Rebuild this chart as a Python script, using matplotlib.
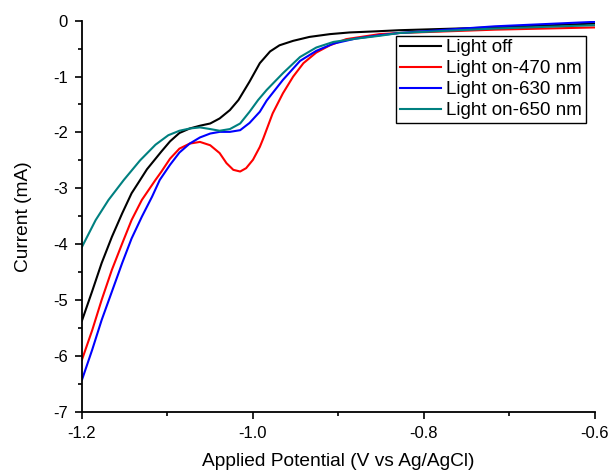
import matplotlib
matplotlib.use("Agg")
import matplotlib.pyplot as plt
from matplotlib.ticker import MultipleLocator, FuncFormatter

plt.rcParams['font.family'] = ['Liberation Sans', 'DejaVu Sans']

# potential (V vs Ag/AgCl) and current (mA)
off_x = [-1.2, -1.188, -1.177, -1.165, -1.153, -1.142, -1.134, -1.124, -1.107, -1.097,
         -1.086, -1.074, -1.062, -1.050, -1.039, -1.027, -1.017, -1.004, -0.992, -0.980,
         -0.969, -0.953, -0.934, -0.910, -0.887, -0.856, -0.829, -0.717, -0.6]
off_y = [-5.37, -4.84, -4.34, -3.87, -3.45, -3.09, -2.90, -2.66, -2.34, -2.16,
         -2.01, -1.93, -1.88, -1.84, -1.75, -1.60, -1.42, -1.09, -0.76, -0.55,
         -0.44, -0.36, -0.29, -0.24, -0.21, -0.19, -0.17, -0.12, -0.05]

r470_x = [-1.2, -1.188, -1.177, -1.165, -1.153, -1.142, -1.130, -1.114, -1.107, -1.097,
          -1.086, -1.074, -1.062, -1.050, -1.039, -1.031, -1.023, -1.015, -1.008, -1.0,
          -0.992, -0.988, -0.977, -0.965, -0.953, -0.941, -0.926, -0.910, -0.891, -0.852,
          -0.829, -0.717, -0.6]
r470_y = [-6.07, -5.54, -5.00, -4.46, -3.99, -3.57, -3.21, -2.85, -2.70, -2.47,
          -2.29, -2.20, -2.17, -2.23, -2.37, -2.55, -2.67, -2.70, -2.64, -2.49,
          -2.26, -2.11, -1.66, -1.30, -1.00, -0.76, -0.57, -0.44, -0.33, -0.24,
          -0.22, -0.16, -0.12]

r630_x = [-1.2, -1.188, -1.177, -1.165, -1.153, -1.142, -1.130, -1.118, -1.109, -1.097,
          -1.086, -1.074, -1.062, -1.050, -1.039, -1.027, -1.015, -1.004, -0.992, -0.984,
          -0.965, -0.945, -0.926, -0.906, -0.880, -0.852, -0.829, -0.717, -0.6]
r630_y = [-6.43, -5.89, -5.36, -4.85, -4.34, -3.90, -3.51, -3.15, -2.85, -2.58,
          -2.36, -2.20, -2.09, -2.02, -1.99, -1.99, -1.96, -1.83, -1.63, -1.43,
          -1.06, -0.72, -0.54, -0.41, -0.32, -0.26, -0.22, -0.10, -0.02]

r650_x = [-1.2, -1.184, -1.169, -1.151, -1.132, -1.114, -1.099, -1.086, -1.074, -1.062,
          -1.050, -1.039, -1.027, -1.015, -1.004, -0.994, -0.984, -0.965, -0.945, -0.926,
          -0.906, -0.879, -0.852, -0.829, -0.717, -0.6]
r650_y = [-4.05, -3.57, -3.21, -2.85, -2.50, -2.22, -2.05, -1.97, -1.93, -1.91,
          -1.94, -1.97, -1.94, -1.84, -1.63, -1.42, -1.24, -0.94, -0.65, -0.48,
          -0.38, -0.32, -0.27, -0.22, -0.14, -0.08]

labels = ['Light off', 'Light on-470 nm', 'Light on-630 nm', 'Light on-650 nm']
colors = ['#000000', '#ff0000', '#0000ff', '#008080']

fig = plt.figure(figsize=(6.09, 4.71), dpi=100)
ax = fig.add_axes([0.1346, 0.126, 0.8424, 0.830])

series = [(off_x, off_y), (r470_x, r470_y), (r630_x, r630_y), (r650_x, r650_y)]
for (xs, ys), lab, c in zip(series, labels, colors):
    ax.plot(xs, ys, color=c, lw=1.5, label=lab, solid_joinstyle='round')

ax.set_xlim(-1.2, -0.6)
ax.set_ylim(-7, 0)
ax.xaxis.set_major_locator(MultipleLocator(0.2))
ax.xaxis.set_minor_locator(MultipleLocator(0.1))
ax.yaxis.set_major_locator(MultipleLocator(1))
ax.yaxis.set_minor_locator(MultipleLocator(0.5))
ax.xaxis.set_major_formatter(FuncFormatter(lambda v, p: '%.1f' % v))
ax.yaxis.set_major_formatter(FuncFormatter(lambda v, p: '%d' % round(v)))

for s in ['top', 'right']:
    ax.spines[s].set_visible(False)
for s in ['left', 'bottom']:
    ax.spines[s].set_linewidth(1.3)

ax.tick_params(which='major', direction='out', length=5, width=1.2, labelsize=12, pad=5)
ax.tick_params(which='minor', direction='out', length=3, width=1.2)

ax.set_xlabel('Applied Potential (V vs Ag/AgCl)', fontsize=13.8)
ax.set_ylabel('Current (mA)', fontsize=13.8)
ax.xaxis.set_label_coords(0.5, -0.105)
ax.yaxis.set_label_coords(-0.097, 0.5)

leg = ax.legend(loc='upper right', bbox_to_anchor=(0.9825, 0.962), fontsize=13.5,
                frameon=True, fancybox=False, edgecolor='black', framealpha=1,
                handlelength=2.2, handletextpad=0.3, labelspacing=0.2,
                borderpad=0.2, borderaxespad=0)
leg.get_frame().set_linewidth(1.0)

fig.savefig('out.png', dpi=100)
